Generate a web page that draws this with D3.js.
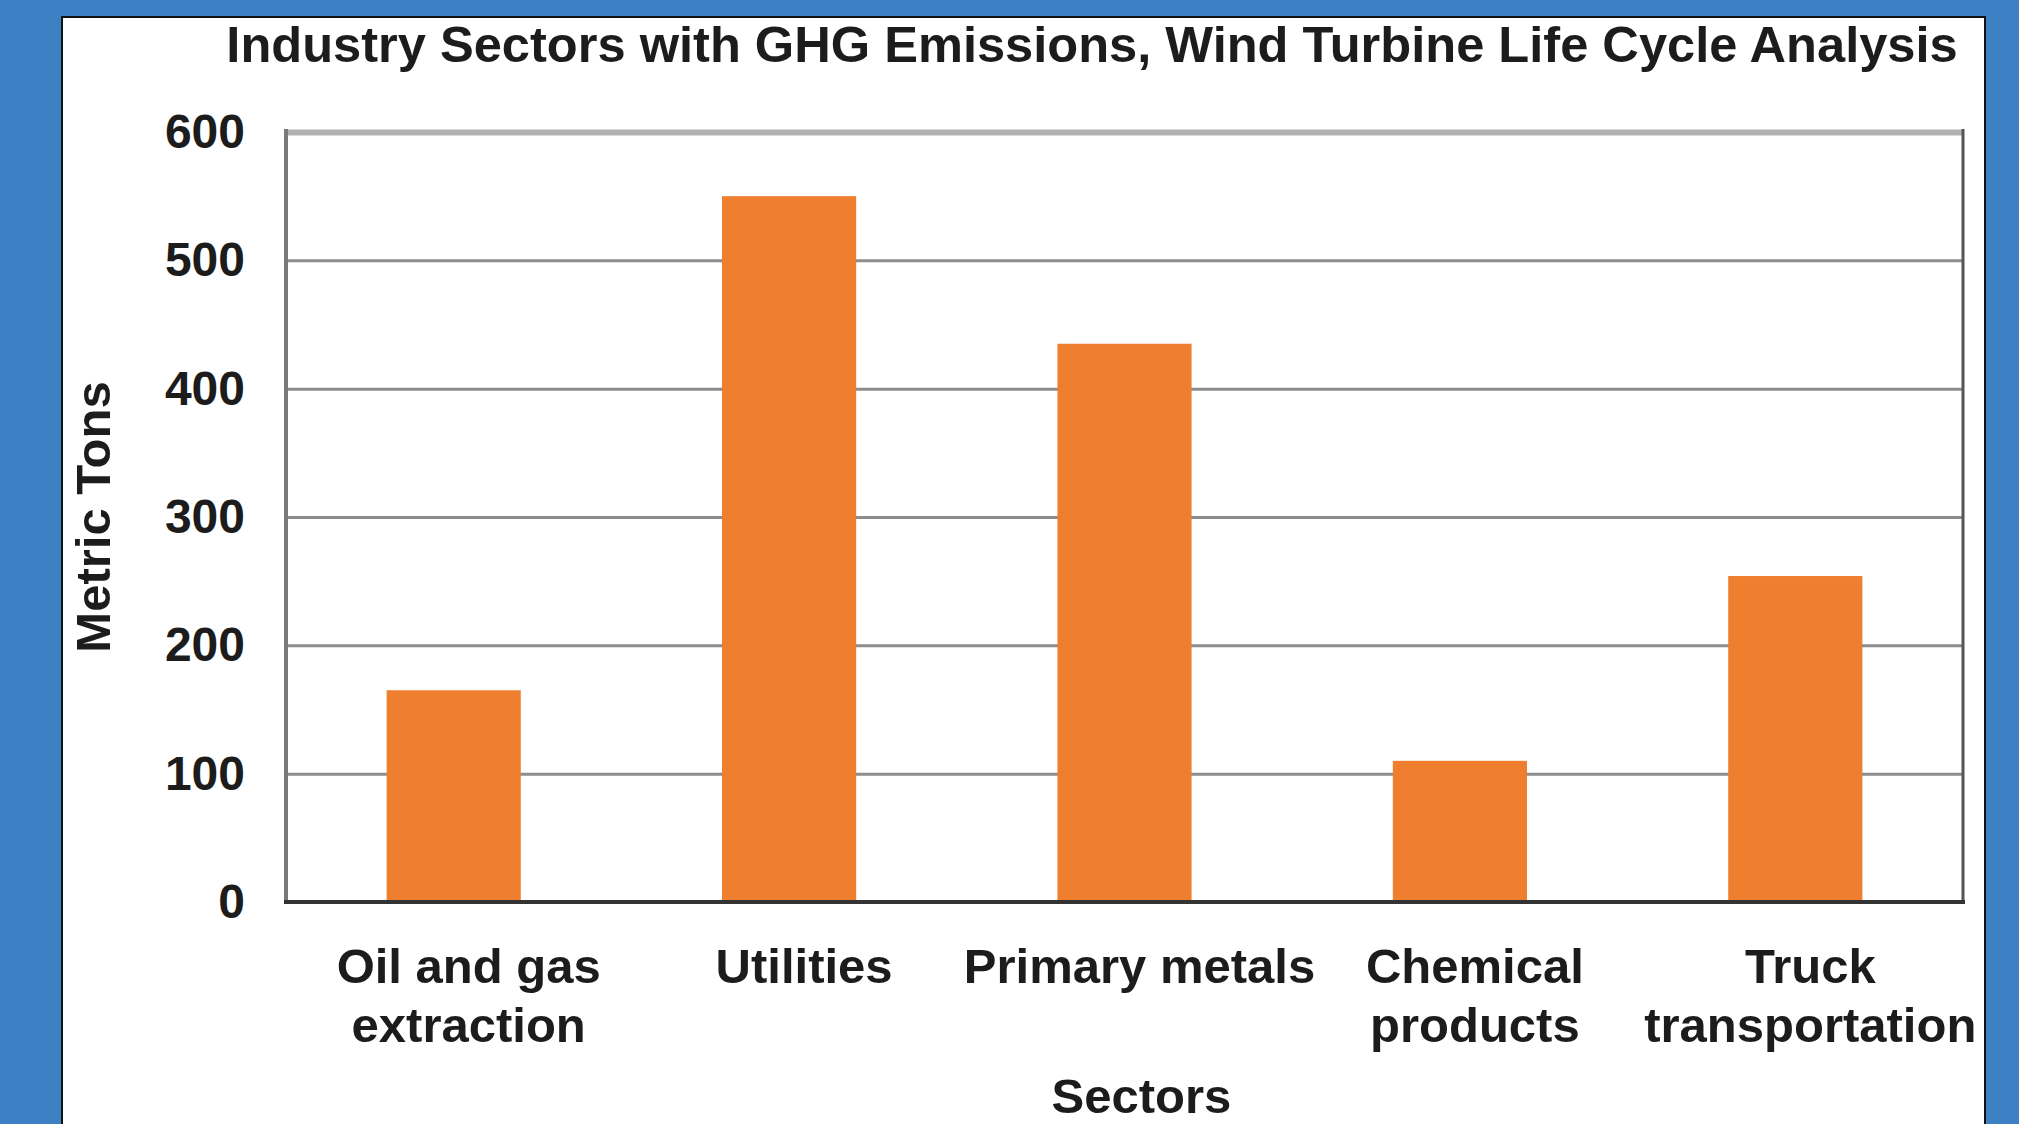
<!DOCTYPE html>
<html>
<head>
<meta charset="utf-8">
<script src="https://cdn.jsdelivr.net/npm/d3@7"></script>
<style>
  html, body { margin: 0; padding: 0; background: #3d80c4; }
  svg { display: block; }
  text { font-family: "Liberation Sans", Arial, Helvetica, sans-serif; font-weight: bold; fill: #1c1c1c; }
</style>
</head>
<body>
<svg id="chart" width="2019" height="1124"></svg>
<script>
// ---- data ----
const title = "Industry Sectors with GHG Emissions, Wind Turbine Life Cycle Analysis";
const categories = ["Oil and gas extraction", "Utilities", "Primary metals", "Chemical products", "Truck transportation"];
const categoryLabelLines = [["Oil and gas", "extraction"], ["Utilities"], ["Primary metals"], ["Chemical", "products"], ["Truck", "transportation"]];
const values = [165, 550, 435, 110, 254];
const yTicks = [0, 100, 200, 300, 400, 500, 600];
const yAxisTitle = "Metric Tons";
const xAxisTitle = "Sectors";

// ---- layout ----
const W = 2019, H = 1124;
const plot = { left: 286, right: 1963, top: 132, bottom: 902 };

const svg = d3.select("#chart");

// blue background
svg.append("rect").attr("x", 0).attr("y", 0).attr("width", W).attr("height", H).attr("fill", "#3d80c4");
// white panel
svg.append("rect").attr("x", 62).attr("y", 17).attr("width", 1985 - 62).attr("height", H + 10)
  .attr("fill", "#ffffff").attr("stroke", "#111").attr("stroke-width", 2);

const x = d3.scaleBand().domain(categories).range([plot.left, plot.right]).paddingInner(0.6).paddingOuter(0.3);
const y = d3.scaleLinear().domain([0, 600]).range([plot.bottom, plot.top]);

// gridlines + tick labels
const yAxis = d3.axisLeft(y).tickValues(yTicks).tickSize(-(plot.right - plot.left)).tickPadding(41).tickFormat(d3.format("d"));
const gy = svg.append("g").attr("transform", `translate(${plot.left},0)`).call(yAxis);
gy.select(".domain").remove();
gy.selectAll(".tick line")
  .attr("stroke", d => d === 600 ? "#b2b2b2" : "#8c8c8c")
  .attr("stroke-width", d => d === 600 ? 6 : 3)
  .attr("opacity", d => d === 0 ? 0 : 1);
gy.selectAll(".tick text").attr("font-size", 48).attr("fill", "#1c1c1c")
  .style("font-family", '"Liberation Sans", Arial, sans-serif').style("font-weight", "bold");

// left and right frame lines
svg.append("line").attr("x1", plot.left).attr("x2", plot.left).attr("y1", plot.top - 3).attr("y2", plot.bottom)
  .attr("stroke", "#7a7a7a").attr("stroke-width", 4);
svg.append("line").attr("x1", plot.right).attr("x2", plot.right).attr("y1", plot.top - 3).attr("y2", plot.bottom)
  .attr("stroke", "#555").attr("stroke-width", 3);

// bars
svg.append("g").selectAll("rect").data(values).join("rect")
  .attr("x", (d, i) => x(categories[i]))
  .attr("width", x.bandwidth())
  .attr("y", d => y(d))
  .attr("height", d => y(0) - y(d))
  .attr("fill", "#ef7e2f");

// bottom axis line
svg.append("line").attr("x1", plot.left - 2).attr("x2", plot.right + 2).attr("y1", y(0)).attr("y2", y(0))
  .attr("stroke", "#333").attr("stroke-width", 4);

// category labels
const labelOffset = 15;
const lab = svg.append("g").selectAll("text").data(categoryLabelLines).join("text")
  .attr("text-anchor", "middle").attr("font-size", 49)
  .attr("x", (d, i) => x(categories[i]) + x.bandwidth() / 2 + labelOffset)
  .attr("y", 983);
lab.selectAll("tspan").data(d => d).join("tspan")
  .attr("x", function() { return d3.select(this.parentNode).attr("x"); })
  .attr("dy", (d, i) => i === 0 ? 0 : 59)
  .text(d => d);

// title
svg.append("text").attr("x", 1092).attr("y", 62).attr("text-anchor", "middle").attr("font-size", 50.6).text(title);

// y axis title
svg.append("text").attr("transform", "translate(110,517) rotate(-90)").attr("text-anchor", "middle")
  .attr("font-size", 49).text(yAxisTitle);

// x axis title
svg.append("text").attr("x", (plot.left + plot.right) / 2 + 17).attr("y", 1113).attr("text-anchor", "middle")
  .attr("font-size", 49).text(xAxisTitle);
</script>
</body>
</html>
